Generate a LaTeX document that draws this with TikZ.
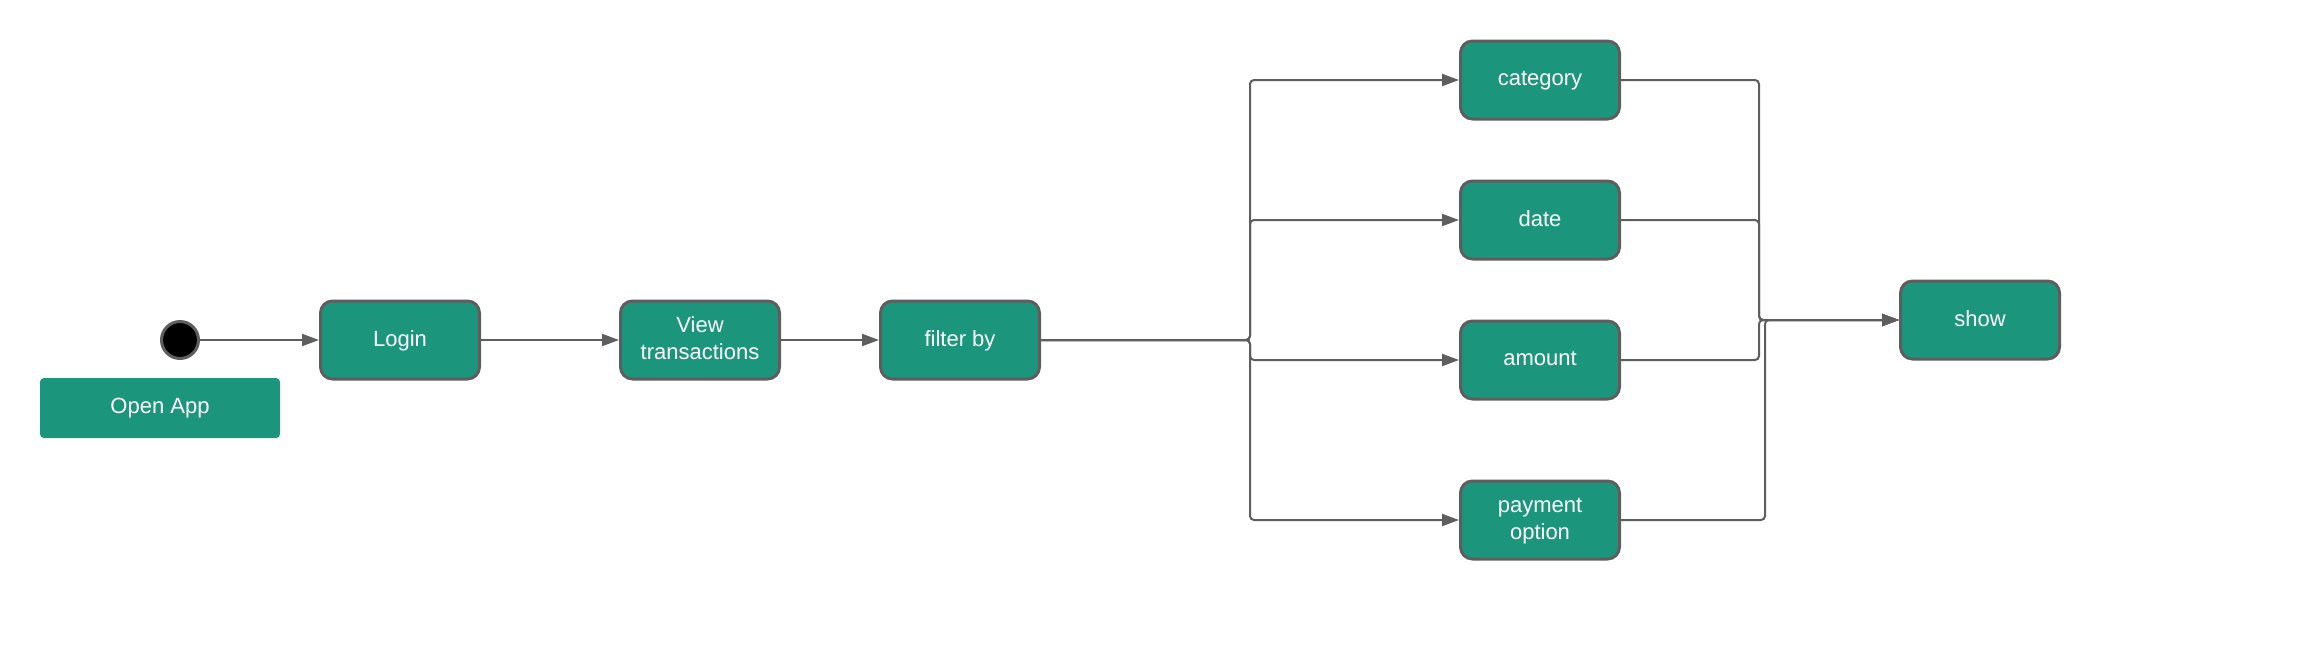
\documentclass[tikz,border=0pt]{standalone}
\usepackage{fontspec}
\setmainfont{Liberation Sans}
\usetikzlibrary{arrows.meta}
\definecolor{teal1}{HTML}{1B967D}
\definecolor{edge1}{HTML}{5E5E5E}
\tikzset{
  stbox/.style={rectangle, rounded corners=12pt, draw=edge1, line width=3pt, fill=teal1,
    minimum width=159pt, minimum height=78pt, text=white, align=center,
    font=\fontsize{22}{27}\selectfont, inner sep=0pt, text depth=3pt},
  lblbox/.style={rectangle, rounded corners=4pt, fill=teal1, minimum width=240pt, minimum height=60pt,
    text=white, font=\fontsize{22}{27}\selectfont, inner sep=0pt},
  startdot/.style={circle, fill=black, draw=edge1, line width=3pt, minimum size=37pt, inner sep=0pt},
  conn/.style={draw=edge1, line width=2pt, rounded corners=4pt, -{Triangle[length=17pt,width=12pt]}},
}
\begin{document}
\begin{tikzpicture}[x=1pt,y=-1pt]
\useasboundingbox (0,0) rectangle (2320,662);
\node[startdot] (init) at (180,340) {};
\node[lblbox] (open) at (160,408) {Open App};
\node[stbox] (login) at (400,340) {Login};
\node[stbox] (view) at (700,340) {View\\transactions};
\node[stbox] (filter) at (960,340) {filter by};
\node[stbox] (cat) at (1540,80) {category};
\node[stbox] (date) at (1540,220) {date};
\node[stbox] (amt) at (1540,360) {amount};
\node[stbox] (pay) at (1540,520) {payment\\option};
\node[stbox] (show) at (1980,320) {show};
\coordinate (busL) at (1250,340);
\coordinate (busR) at (1759,320);
\coordinate (busRb) at (1765,320);
\draw[conn] (init) -- (login);
\draw[conn] (login) -- (view);
\draw[conn] (view) -- (filter);
\draw[conn] (filter.east) -- (busL) |- (cat.west);
\draw[conn] (filter.east) -- (busL) |- (date.west);
\draw[conn] (filter.east) -- (busL) |- (amt.west);
\draw[conn] (filter.east) -- (busL) |- (pay.west);
\draw[conn] (cat.east) -| (busR) -- (show.west);
\draw[conn] (date.east) -| (busR) -- (show.west);
\draw[conn] (amt.east) -| (busR) -- (show.west);
\draw[conn] (pay.east) -| (busRb) -- (show.west);
\end{tikzpicture}
\end{document}
